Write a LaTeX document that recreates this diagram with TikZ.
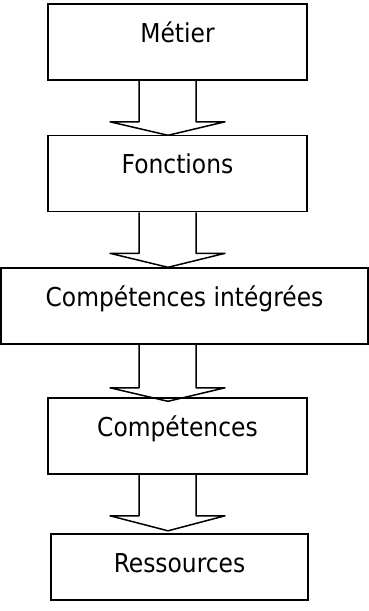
\documentclass[tikz,border=0pt]{standalone}
\usepackage{fontspec}
\setmainfont{DejaVu Sans Condensed}
\usetikzlibrary{calc}
\tikzset{
  box/.style={draw, line width=1.6pt, minimum height=76pt, inner sep=0pt,
    text height=20pt, text depth=20pt, font=\fontsize{26}{31}\selectfont},
  blockarrow/.style={draw, line width=1.5pt, line join=round}
}
\begin{document}
\begin{tikzpicture}[x=1pt, y=-1pt]
		\useasboundingbox (0,0) rectangle (369,611);

		% Boxes
		\node[box, minimum width=259pt] (metier) at (177.5,42) {Métier};
		\node[box, minimum width=259pt] (fonctions) at (177.5,173.5) {Fonctions};
		\node[box, minimum width=367pt] (integrees) at (184.5,306) {Compétences intégrées};
		\node[box, minimum width=259pt] (competences) at (177.5,436) {Compétences};
		\node[box, minimum width=257pt, minimum height=66pt, text height=25pt, text depth=15pt] (ressources) at (179.5,567) {Ressources};

		% Arrows
		\draw[blockarrow] ($(metier.south)+(-38.5,0)$) -- ++(0,41) -- ++(-29,0) -- ++(58,13.5) -- ++(57,-13.5) -- ++(-29,0) -- ($(metier.south)+(18.5,0)$);
		\draw[blockarrow] ($(fonctions.south)+(-38.5,0)$) -- ++(0,41) -- ++(-29,0) -- ++(58,14) -- ++(57,-14) -- ++(-29,0) -- ($(fonctions.south)+(18.5,0)$);
		\draw[blockarrow] ($(integrees.south -| competences.south)+(-38.5,0)$) -- ++(0,43) -- ++(-29,0) -- ++(58,13.5) -- ++(57,-13.5) -- ++(-29,0) -- ($(integrees.south -| competences.south)+(18.5,0)$);
		\draw[blockarrow] ($(competences.south)+(-38.5,0)$) -- ++(0,41) -- ++(-29,0) -- ++(58,15) -- ++(57,-15) -- ++(-29,0) -- ($(competences.south)+(18.5,0)$);
	\end{tikzpicture}
\end{document}
